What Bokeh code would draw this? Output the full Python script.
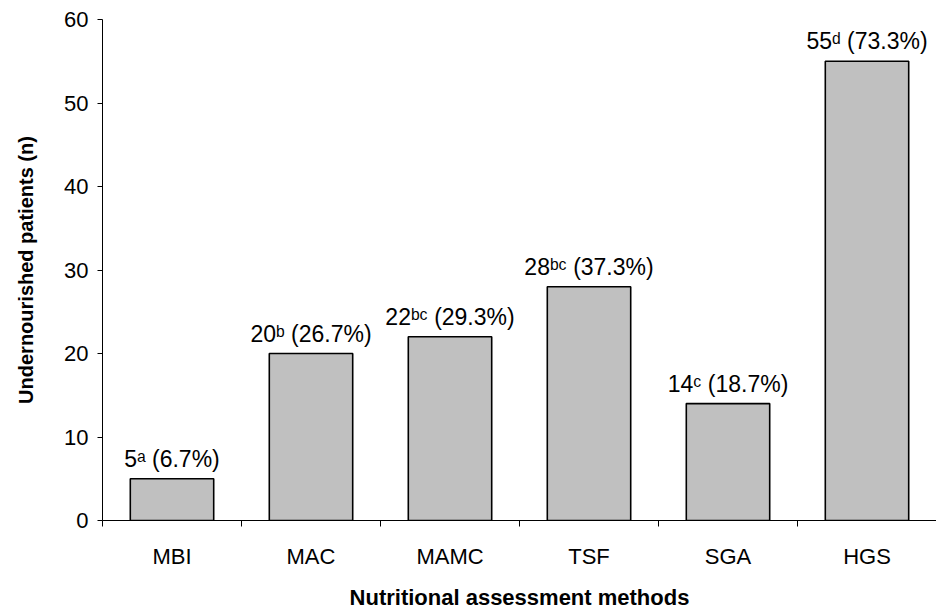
from bokeh.plotting import figure
from bokeh.models import ColumnDataSource, FixedTicker, Range1d
from bokeh.core.properties import value
from bokeh.embed import file_html
from bokeh.resources import INLINE

categories = ["MBI", "MAC", "MAMC", "TSF", "SGA", "HGS"]
counts = [5, 20, 22, 28, 14, 55]
letters = ["a", "b", "bc", "bc", "c", "d"]
percents = [6.7, 26.7, 29.3, 37.3, 18.7, 73.3]
y_ticks = [0, 10, 20, 30, 40, 50, 60]

SUP = {"a": "\u1d43", "b": "\u1d47", "c": "\u1d9c", "d": "\u1d48"}

xs = [i + 0.5 for i in range(len(categories))]
labels = [f"{n}{''.join(SUP[ch] for ch in l)} ({p:.1f}%)" for n, l, p in zip(counts, letters, percents)]

src = ColumnDataSource(dict(x=xs, top=counts, label=labels))

FONT = "Liberation Sans"

p = figure(width=936, height=612, output_backend="svg", toolbar_location=None,
           x_range=Range1d(0, len(categories)), y_range=Range1d(0, 60),
           min_border_left=102, min_border_top=19, min_border_bottom=90, min_border_right=0)
p.outline_line_color = None
p.xgrid.visible = False
p.ygrid.visible = False
p.background_fill_color = "white"
p.border_fill_color = "white"

p.vbar(x="x", top="top", bottom=0, width=0.6, source=src,
       fill_color="#c0c0c0", line_color="black", line_width=1.6)

p.text(x="x", y="top", text="label", source=src, text_align="center",
       text_baseline="alphabetic", y_offset=-20, text_font=value(FONT),
       text_font_size="23px", text_color="black")

# x axis: boundary ticks (minor) and centered labels (major, no mark)
xa = p.xaxis[0]
xa.ticker = FixedTicker(ticks=xs, minor_ticks=list(range(len(categories) + 1)))
xa.major_label_overrides = {x: c for x, c in zip(xs, categories)}
xa.major_tick_out = 0
xa.major_tick_in = 0
xa.minor_tick_out = 6
xa.minor_tick_in = 0
xa.minor_tick_line_color = "black"
xa.axis_line_color = "black"
xa.major_label_standoff = 17
xa.major_label_text_font = FONT
xa.major_label_text_font_size = "22px"
xa.major_label_text_color = "black"
xa.axis_label = "Nutritional assessment methods"
xa.axis_label_text_font = FONT
xa.axis_label_text_font_style = "bold"
xa.axis_label_text_font_size = "22px"
xa.axis_label_text_color = "black"
xa.axis_label_standoff = 13

ya = p.yaxis[0]
ya.ticker = FixedTicker(ticks=y_ticks, minor_ticks=[])
ya.major_tick_out = 5
ya.major_tick_in = 0
ya.major_tick_line_color = "black"
ya.axis_line_color = "black"
ya.major_label_standoff = 9
ya.major_label_text_font = FONT
ya.major_label_text_font_size = "22px"
ya.major_label_text_color = "black"
ya.axis_label = "Undernourished patients (n)"
ya.axis_label_text_font = FONT
ya.axis_label_text_font_style = "bold"
ya.axis_label_text_font_size = "20px"
ya.axis_label_text_color = "black"
ya.axis_label_standoff = 24

open("out.html", "w").write(file_html(p, INLINE))
